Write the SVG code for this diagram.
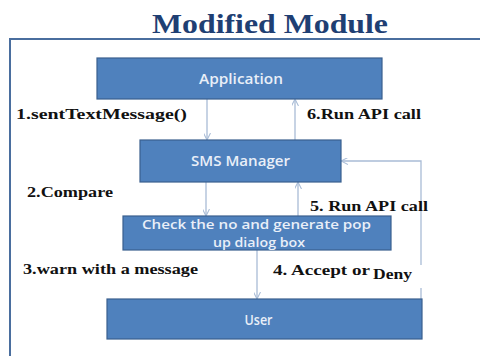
<svg xmlns="http://www.w3.org/2000/svg" width="480" height="356" viewBox="0 0 480 356">
<defs>
<style>
.box{fill:#4F81BD;stroke:#3A5F8E;stroke-width:1.2}
.bt{font-family:"Open Sans","Liberation Sans",sans-serif;font-size:14px;font-weight:600;fill:#E9EFF8;text-anchor:middle}
.sm{font-size:12.5px}
.lbl{font-family:"Liberation Serif","Times New Roman",serif;font-weight:bold;font-size:15px;fill:#111}
.conn{fill:none;stroke:#A9BCD6;stroke-width:1.3}
</style>
<marker id="ah" viewBox="0 0 10 10" refX="10" refY="5" markerWidth="7" markerHeight="7" orient="auto" markerUnits="userSpaceOnUse">
<path d="M0,0 L10,5 L0,10" fill="none" stroke="#A9BCD6" stroke-width="1.5"/>
</marker>
</defs>
<rect width="480" height="356" fill="#fff"/>
<text x="270" y="33" font-family="Liberation Serif,'Times New Roman',serif" font-weight="bold" font-size="27" fill="#1F3F73" text-anchor="middle" textLength="236" lengthAdjust="spacingAndGlyphs">Modified Module</text>
<path d="M10,356 V39 H480" fill="none" stroke="#4A6E9E" stroke-width="2"/>
<g id="connectors">
<path class="conn" d="M207,99 V140" marker-end="url(#ah)"/>
<path class="conn" d="M295,140 V99" marker-end="url(#ah)"/>
<path class="conn" d="M206,182 V216" marker-end="url(#ah)"/>
<path class="conn" d="M298,216 V182" marker-end="url(#ah)"/>
<path class="conn" d="M257,250 V299" marker-end="url(#ah)"/>
<path class="conn" d="M421,265 V161 H341" marker-end="url(#ah)"/>
<path class="conn" d="M421,299 V288"/>
</g>
<g id="application">
<rect class="box" x="97" y="58" width="285" height="41"/>
<text class="bt" x="241" y="84" textLength="84" lengthAdjust="spacingAndGlyphs">Application</text>
</g>
<g id="sms-manager">
<rect class="box" x="140" y="140" width="201" height="42"/>
<text class="bt" x="240.5" y="166" textLength="99" lengthAdjust="spacingAndGlyphs">SMS Manager</text>
</g>
<g id="check">
<rect class="box" x="123" y="216" width="268" height="34"/>
<text class="bt sm" x="256.5" y="229" textLength="229" lengthAdjust="spacingAndGlyphs">Check the no and generate pop</text>
<text class="bt sm" x="259" y="246.5" textLength="92" lengthAdjust="spacingAndGlyphs">up dialog box</text>
</g>
<g id="user">
<rect class="box" x="107" y="299" width="315" height="40"/>
<text class="bt" x="258.5" y="324.5" textLength="28" lengthAdjust="spacingAndGlyphs">User</text>
</g>
<g id="labels">
<text class="lbl" x="16" y="119" textLength="171" lengthAdjust="spacingAndGlyphs">1.sentTextMessage()</text>
<text class="lbl" x="307" y="119" textLength="114" lengthAdjust="spacingAndGlyphs">6.Run API call</text>
<text class="lbl" x="27" y="197" textLength="86" lengthAdjust="spacingAndGlyphs">2.Compare</text>
<text class="lbl" x="310" y="211" textLength="118" lengthAdjust="spacingAndGlyphs">5. Run API call</text>
<text class="lbl" x="23" y="274" textLength="175" lengthAdjust="spacingAndGlyphs">3.warn with a message</text>
<text class="lbl" x="273" y="275" textLength="97" lengthAdjust="spacingAndGlyphs">4. Accept or</text>
<text class="lbl" x="373" y="279" textLength="39" lengthAdjust="spacingAndGlyphs">Deny</text>
</g>
</svg>
